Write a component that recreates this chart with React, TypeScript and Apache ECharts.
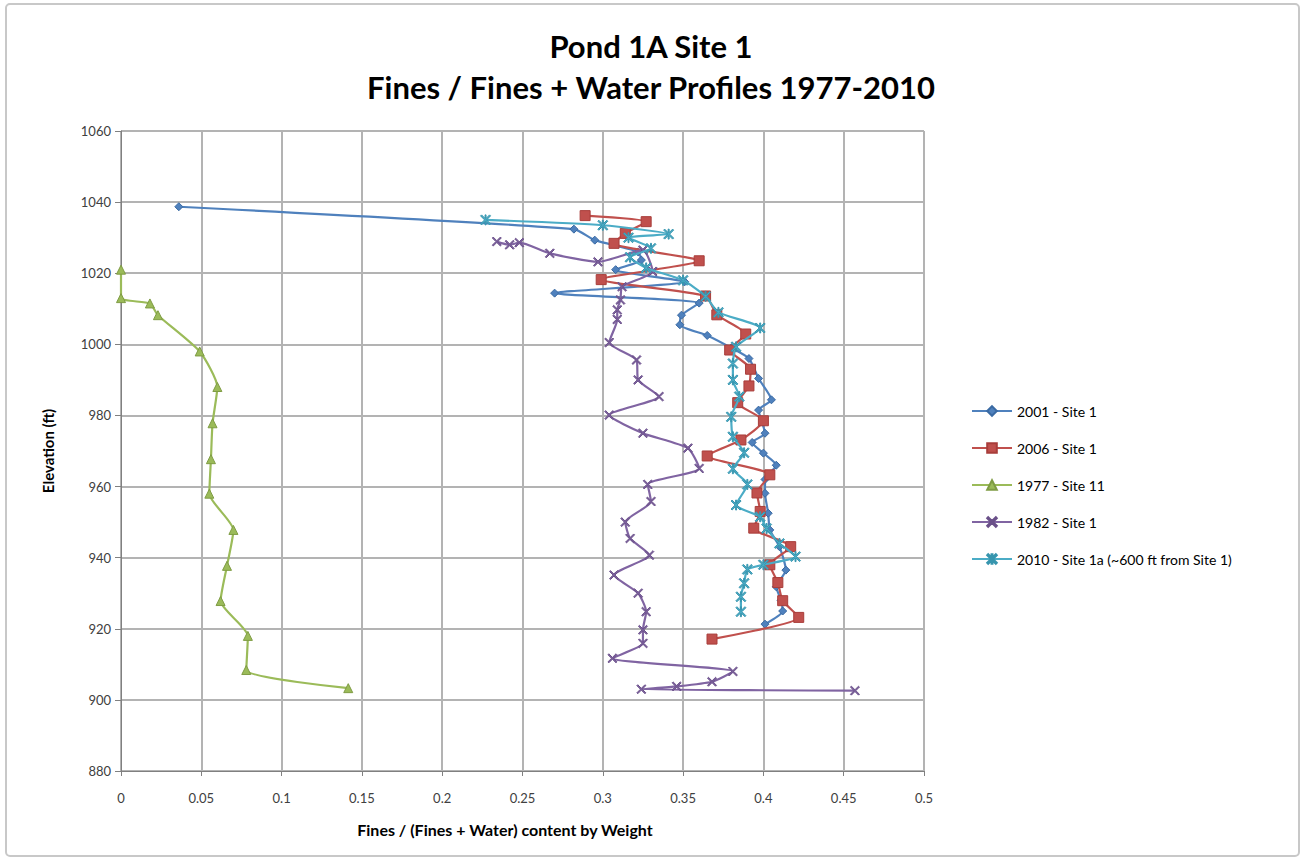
import React, { useEffect, useRef } from "react";
import * as echarts from "echarts";

const seriesNames = [
  "2001 - Site 1",
  "2006 - Site 1",
  "1977 - Site 11",
  "1982 - Site 1",
  "2010 - Site 1a (~600 ft from Site 1)",
];

const xTicks = { min: 0, max: 0.5, interval: 0.05 };
const yTicks = { min: 880, max: 1060, interval: 20 };

const data2001: number[][] = [
  [0.036, 1038.7], [0.282, 1032.4], [0.295, 1029.3], [0.322, 1026], [0.324, 1023.7],
  [0.308, 1021], [0.351, 1017.6], [0.27, 1014.4], [0.36, 1011.6], [0.349, 1008.2],
  [0.348, 1005.5], [0.365, 1002.5], [0.38, 999], [0.391, 996], [0.397, 990.4],
  [0.405, 984.4], [0.397, 981.5], [0.401, 975], [0.393, 972.4], [0.4, 969.4],
  [0.408, 966], [0.401, 962], [0.401, 958.1], [0.403, 952.5], [0.404, 947.8],
  [0.41, 943.1], [0.414, 936.5], [0.408, 931.8], [0.411, 928], [0.412, 925],
  [0.401, 921.3],
];

const data2006: number[][] = [
  [0.289, 1036.2], [0.327, 1034.5], [0.314, 1031.2], [0.307, 1028.4], [0.36, 1023.5],
  [0.299, 1018.2], [0.364, 1013.6], [0.371, 1008.3], [0.389, 1002.9], [0.379, 998.4],
  [0.392, 993], [0.391, 988.3], [0.384, 983.6], [0.4, 978.5], [0.386, 973.1],
  [0.365, 968.6], [0.404, 963.3], [0.396, 958.2], [0.398, 953], [0.394, 948.3],
  [0.417, 943.1], [0.404, 938], [0.409, 933], [0.412, 927.9], [0.422, 923.2],
  [0.368, 917.1],
];

const data1977: number[][] = [
  [0, 1021], [0, 1013], [0.018, 1011.5], [0.023, 1008.2], [0.049, 998],
  [0.06, 988], [0.057, 977.8], [0.056, 967.7], [0.055, 958], [0.07, 947.8],
  [0.066, 937.7], [0.062, 927.8], [0.079, 918], [0.078, 908.4], [0.1415, 903.3],
];

const data1982: number[][] = [
  [0.234, 1028.9], [0.242, 1028], [0.248, 1028.6], [0.267, 1025.6], [0.297, 1023.2],
  [0.325, 1026.5], [0.331, 1020.5], [0.312, 1016.2], [0.311, 1012.5], [0.309, 1009.7],
  [0.309, 1007], [0.304, 1000.5], [0.321, 995.6], [0.322, 990], [0.335, 985.3],
  [0.304, 980.1], [0.325, 975], [0.353, 970.8], [0.36, 965.1], [0.328, 960.6],
  [0.33, 955.8], [0.314, 950], [0.317, 945.4], [0.329, 940.7], [0.307, 935.1],
  [0.322, 930], [0.327, 924.8], [0.325, 919.7], [0.325, 915.9], [0.306, 911.7],
  [0.381, 908], [0.368, 905.1], [0.346, 903.8], [0.324, 903], [0.457, 902.6],
];

const data2010: number[][] = [
  [0.227, 1035], [0.3, 1033.5], [0.341, 1031], [0.316, 1030], [0.33, 1027],
  [0.317, 1024.5], [0.327, 1021.5], [0.35, 1018], [0.364, 1013.5], [0.372, 1009],
  [0.398, 1004.6], [0.383, 999.3], [0.381, 994.6], [0.381, 990], [0.385, 985.3],
  [0.38, 979.6], [0.381, 974], [0.388, 969.5], [0.381, 965], [0.39, 960.6],
  [0.383, 954.8], [0.398, 951.5], [0.402, 948.2], [0.41, 944], [0.42, 940.3],
  [0.4, 938], [0.39, 936.7], [0.388, 932.8], [0.386, 929], [0.386, 924.8],
];

const allData = [data2001, data2006, data1977, data1982, data2010];
const colors = ["#4f81bd", "#c0504d", "#9bbb59", "#8064a2", "#4bacc6"];
const borderColors = ["#3a6aa3", "#a83d3a", "#7f9c44", "#6a5089", "#3795ae"];

const xSymbol = "path://M0,1L1,0L5,4L9,0L10,1L6,5L10,9L9,10L5,6L1,10L0,9L4,5Z";
const starSymbol =
  "path://M0,1L1,0L4.5,3.5L4.5,0L5.5,0L5.5,3.5L9,0L10,1L6,5L10,9L9,10L5.5,6.5L5.5,10L4.5,10L4.5,6.5L1,10L0,9L4,5Z";
const symbols = ["diamond", "rect", "triangle", xSymbol, starSymbol];
const symbolSizes = [8, 10, 9, 9, 10];

const FONT = "Lato, 'Open Sans', sans-serif";

export default function App() {
  const ref = useRef<HTMLDivElement>(null);
  useEffect(() => {
    if (!ref.current) return;
    const chart = echarts.init(ref.current, undefined, { renderer: "svg" });
    chart.setOption({
      animation: false,
      backgroundColor: "#ffffff",
      title: {
        text: "Pond 1A Site 1\nFines / Fines + Water Profiles 1977-2010",
        left: "center",
        top: 20,
        textStyle: {
          fontFamily: FONT,
          fontSize: 31,
          fontWeight: "bold",
          color: "#000000",
          lineHeight: 41,
        },
      },
      legend: {
        orient: "vertical",
        left: 966,
        top: 399,
        itemWidth: 40,
        itemHeight: 12,
        itemGap: 23,
        textStyle: { fontFamily: FONT, fontSize: 14, color: "#000000" },
        data: seriesNames,
      },
      grid: { left: 121, top: 131, width: 803, height: 640, containLabel: false },
      xAxis: {
        type: "value",
        min: xTicks.min,
        max: xTicks.max,
        interval: xTicks.interval,
        axisLine: { show: true, lineStyle: { color: "#808080", width: 1 } },
        axisTick: { show: true, length: 5, lineStyle: { color: "#808080" } },
        axisLabel: { fontFamily: FONT, fontSize: 13, color: "#404040", margin: 20 },
        splitLine: { show: true, lineStyle: { color: "#b3b3b3", width: 2 } },
      },
      yAxis: {
        type: "value",
        min: yTicks.min,
        max: yTicks.max,
        interval: yTicks.interval,
        axisLine: { show: true, lineStyle: { color: "#808080", width: 1 } },
        axisTick: { show: true, length: 6, lineStyle: { color: "#808080" } },
        axisLabel: {
          fontFamily: FONT,
          fontSize: 13,
          color: "#404040",
          margin: 10,
          formatter: (v: number) => String(v),
        },
        splitLine: { show: true, lineStyle: { color: "#b3b3b3", width: 2 } },
      },
      graphic: [
        {
          type: "rect",
          shape: { x: 6, y: 4, width: 1293, height: 852, r: 4 },
          style: { fill: "none", stroke: "#c8c8c8", lineWidth: 2 },
          silent: true,
        },
        {
          type: "text",
          x: 48,
          y: 451,
          rotation: Math.PI / 2,
          style: {
            text: "Elevation (ft)",
            fontFamily: FONT,
            fontSize: 15,
            fontWeight: "bold",
            fill: "#000000",
            align: "center",
            verticalAlign: "middle",
          },
        },
        {
          type: "text",
          x: 505,
          y: 829,
          style: {
            text: "Fines / (Fines + Water) content by Weight",
            fontFamily: FONT,
            fontSize: 16,
            fontWeight: "bold",
            fill: "#000000",
            align: "center",
            verticalAlign: "middle",
          },
        },
      ],
      series: allData.map((d, i) => ({
        name: seriesNames[i],
        type: "line",
        data: d,
        smooth: 0.2,
        clip: false,
        symbol: symbols[i],
        symbolSize: symbolSizes[i],
        showAllSymbol: true,
        lineStyle: { color: colors[i], width: 2.2 },
        itemStyle: {
          color: colors[i],
          borderColor: borderColors[i],
          borderWidth: 1,
        },
        z: 2 + i,
      })),
    });
    return () => chart.dispose();
  }, []);
  return (
    <div
      ref={ref}
      style={{ position: "fixed", left: 0, top: 0, width: 1302, height: 860 }}
    />
  );
}
